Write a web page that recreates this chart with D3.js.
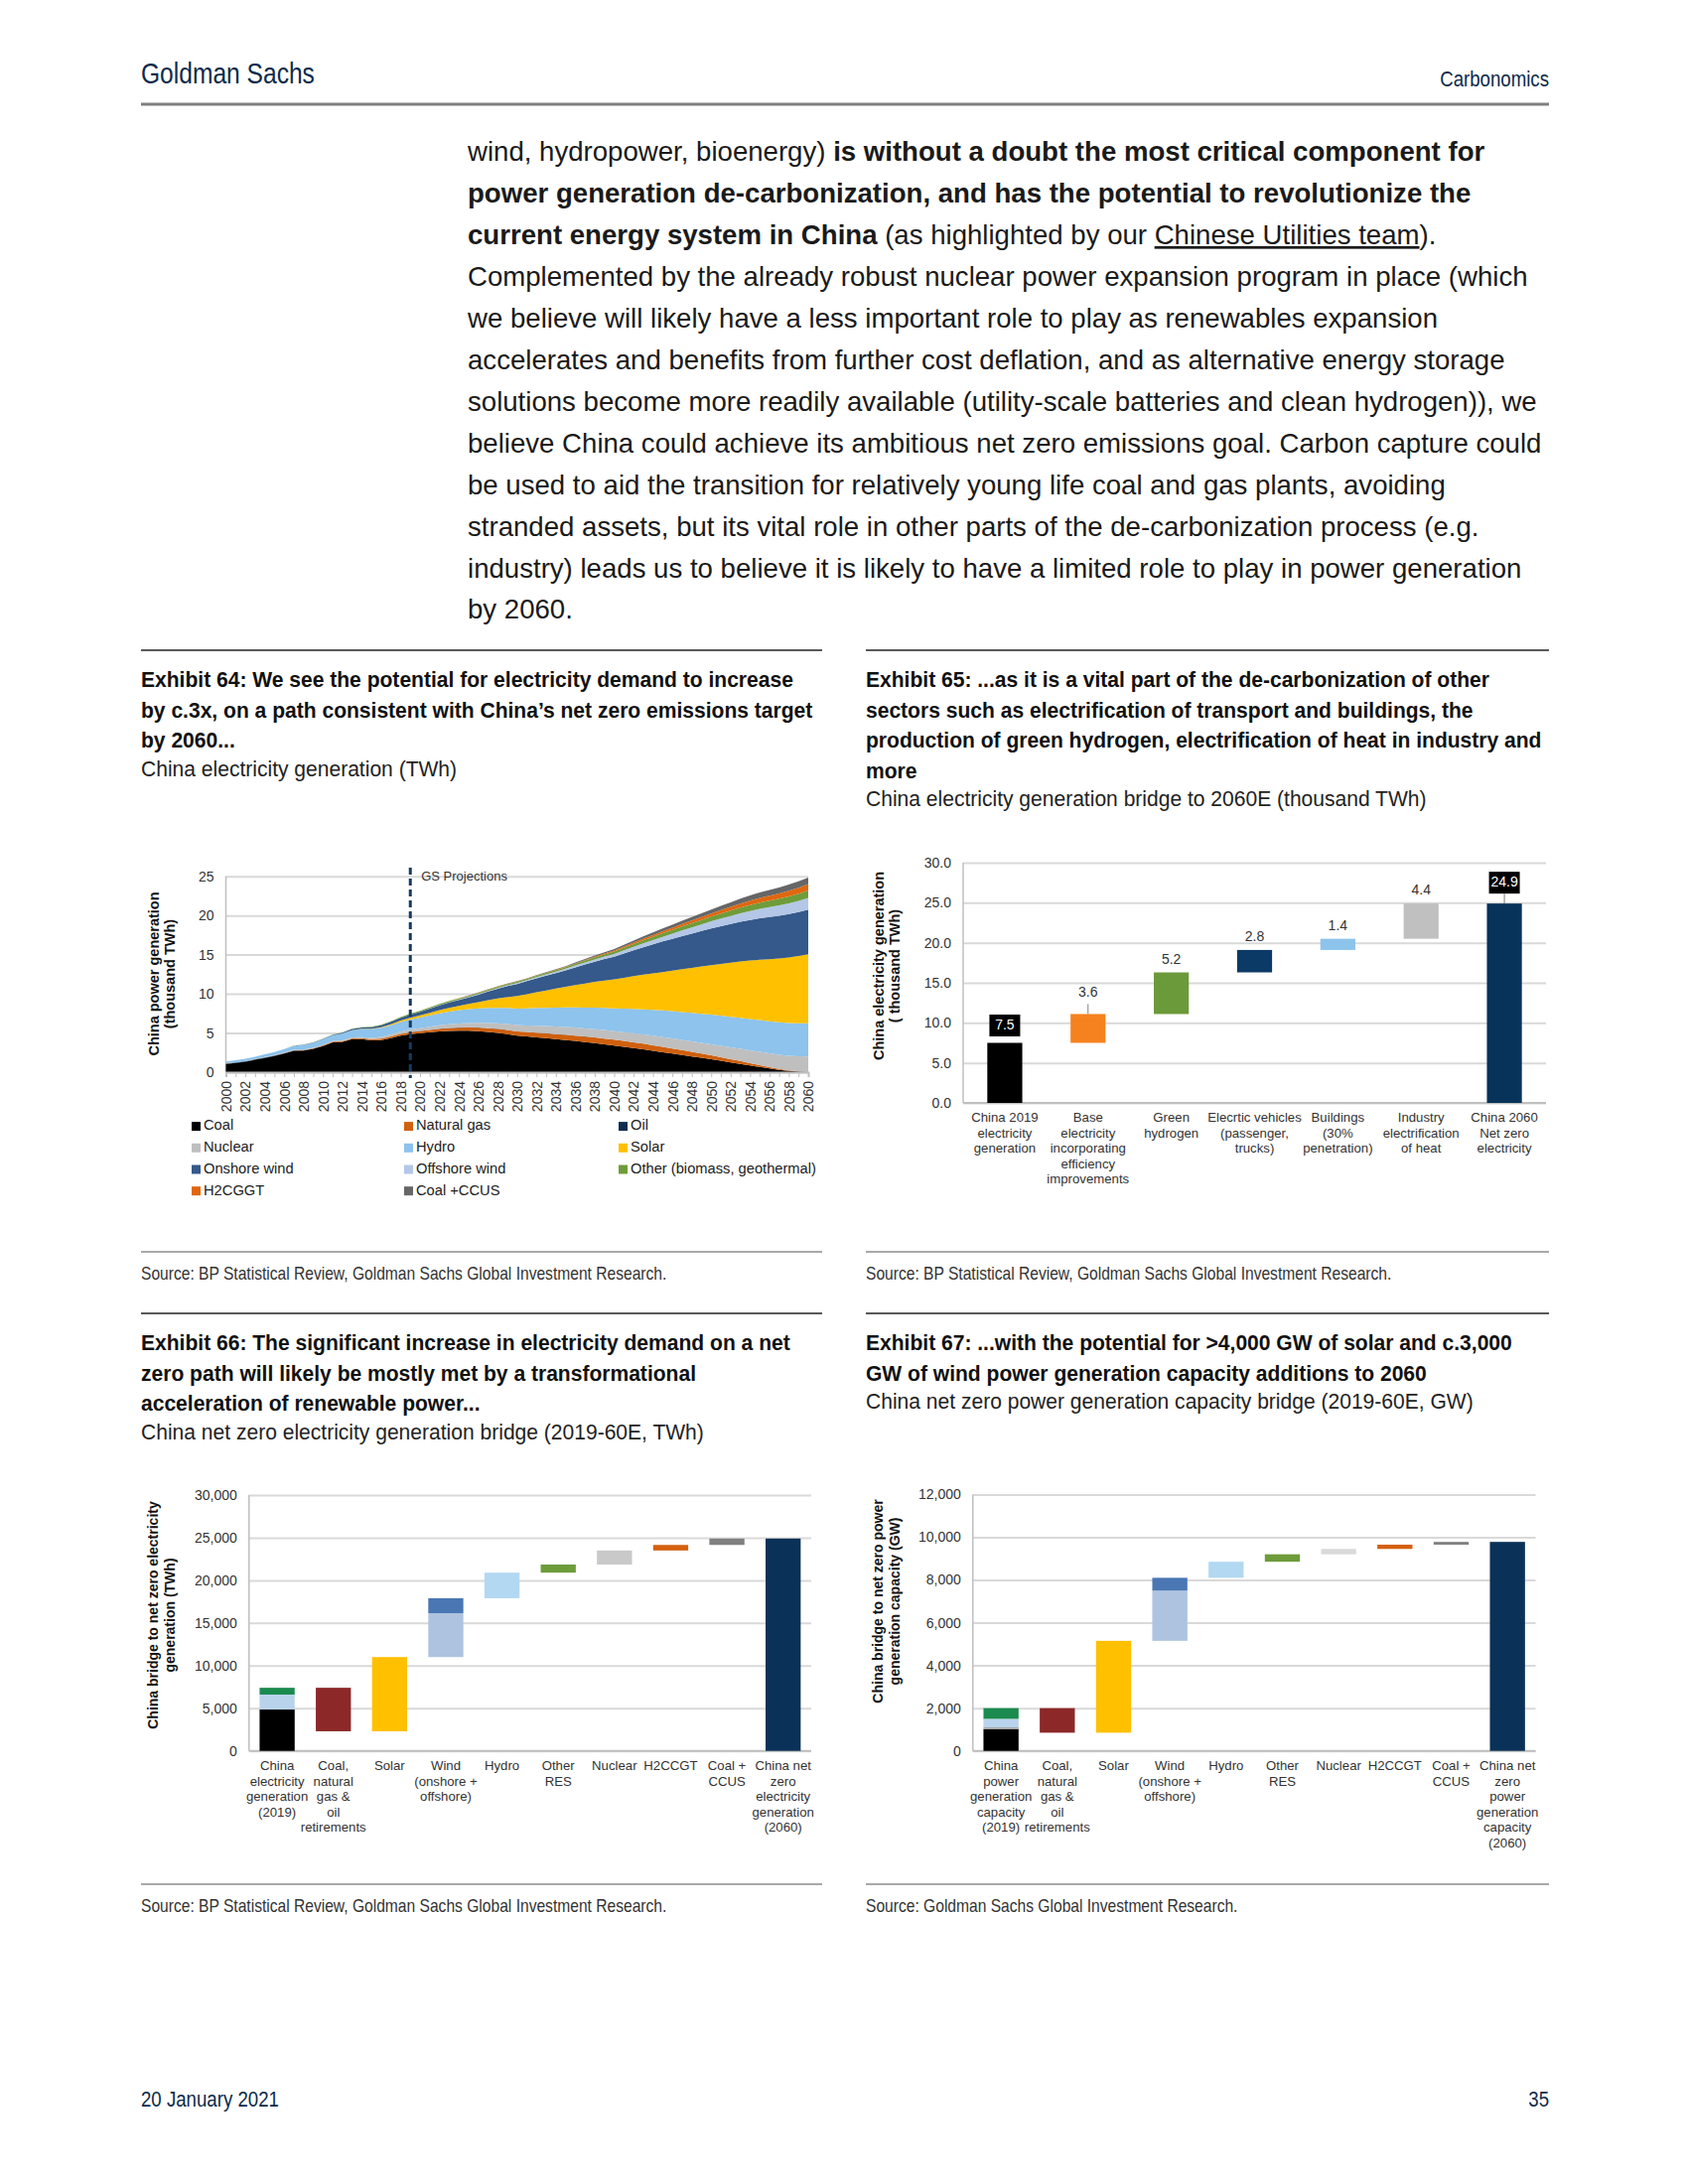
<!DOCTYPE html>
<html>
<head>
<meta charset="utf-8">
<script src="https://cdn.jsdelivr.net/npm/d3@7"></script>
<style>
  body { margin: 0; background: #fff; }
</style>
</head>
<body>
<div id="page"></div>
<script>
// ---------- Exhibit 64 data: China electricity generation, thousand TWh ----------
const years = d3.range(2000, 2061);

const coal = [
  1.06,1.16,1.33,1.58,1.80,2.05,2.37,2.72,2.76,2.98,   // 2000-09
  3.33,3.80,3.86,4.20,4.20,4.05,4.10,4.35,4.65,4.85,   // 2010-19
  4.98,5.10,5.20,5.27,5.30,5.30,5.24,5.14,5.02,4.85,   // 2020-29
  4.65,4.55,4.45,4.34,4.22,4.10,3.98,3.84,3.70,3.55,   // 2030-39
  3.40,3.24,3.08,2.91,2.73,2.55,2.37,2.19,2.01,1.83,   // 2040-49
  1.65,1.45,1.25,1.05,0.85,0.65,0.46,0.29,0.15,0.05,   // 2050-59
  0.00];
const naturalGas = [
  0.01,0.01,0.01,0.01,0.02,0.02,0.03,0.04,0.04,0.05,
  0.07,0.09,0.10,0.11,0.12,0.15,0.17,0.20,0.22,0.24,
  0.26,0.29,0.32,0.35,0.38,0.41,0.44,0.47,0.50,0.53,
  0.55,0.57,0.59,0.61,0.63,0.66,0.68,0.70,0.72,0.73,
  0.74,0.74,0.73,0.72,0.70,0.68,0.65,0.62,0.58,0.54,
  0.50,0.46,0.41,0.36,0.30,0.24,0.18,0.12,0.07,0.03,
  0.00];
const oil = [
  0.05,0.05,0.05,0.05,0.05,0.05,0.05,0.04,0.03,0.02,
  0.01,0.01,0.01,0.01,0.01,0.01,0.01,0.01,0.01,0.01,
  0.01,0.01,0.01,0.01,0.01,0.01,0.01,0.01,0.01,0.01,
  0.01,0.01,0.01,0.01,0.01,0.01,0.01,0.01,0.01,0.01,
  0,0,0,0,0,0,0,0,0,0,
  0,0,0,0,0,0,0,0,0,0,
  0];
const nuclear = [
  0.017,0.017,0.025,0.043,0.050,0.053,0.055,0.062,0.068,0.070,
  0.074,0.086,0.098,0.11,0.13,0.17,0.21,0.25,0.29,0.35,
  0.37,0.41,0.45,0.49,0.52,0.56,0.60,0.66,0.71,0.76,
  0.80,0.84,0.88,0.92,0.96,1.00,1.02,1.04,1.06,1.08,
  1.10,1.13,1.16,1.19,1.22,1.25,1.28,1.31,1.34,1.37,
  1.40,1.46,1.52,1.58,1.64,1.70,1.76,1.82,1.88,1.94,
  2.00];
const hydro = [
  0.22,0.28,0.29,0.28,0.35,0.40,0.44,0.49,0.60,0.62,
  0.72,0.70,0.87,0.92,1.06,1.13,1.18,1.19,1.23,1.27,
  1.36,1.45,1.54,1.62,1.70,1.78,1.85,1.92,1.98,2.04,
  2.10,2.18,2.26,2.34,2.42,2.50,2.58,2.66,2.74,2.82,
  2.90,3.00,3.10,3.20,3.30,3.40,3.48,3.56,3.64,3.72,
  3.80,3.85,3.90,3.95,4.00,4.05,4.09,4.13,4.17,4.21,
  4.25];
const solar = [
  0,0,0,0,0,0,0,0,0,0,
  0.001,0.003,0.004,0.008,0.023,0.045,0.075,0.12,0.18,0.22,
  0.26,0.32,0.39,0.47,0.56,0.66,0.80,0.98,1.18,1.39,
  1.60,1.80,2.00,2.21,2.42,2.63,2.85,3.07,3.29,3.50,
  3.70,3.94,4.18,4.42,4.66,4.90,5.18,5.46,5.74,6.02,
  6.30,6.60,6.90,7.20,7.45,7.70,7.92,8.14,8.36,8.58,
  8.80];
const onshoreWind = [
  0.001,0.001,0.001,0.001,0.001,0.002,0.004,0.006,0.013,0.027,
  0.045,0.07,0.096,0.14,0.16,0.186,0.24,0.30,0.36,0.40,
  0.45,0.52,0.60,0.68,0.74,0.80,0.95,1.10,1.25,1.40,
  1.55,1.66,1.77,1.88,1.99,2.10,2.26,2.42,2.58,2.74,
  2.90,3.10,3.30,3.50,3.70,3.90,4.06,4.22,4.38,4.54,
  4.70,4.82,4.94,5.06,5.18,5.30,5.38,5.46,5.54,5.62,
  5.70];
const offshoreWind = [
  0,0,0,0,0,0,0,0,0,0,
  0,0,0,0,0,0,0,0,0.005,0.01,
  0.02,0.03,0.04,0.05,0.06,0.07,0.08,0.09,0.10,0.11,
  0.12,0.14,0.16,0.18,0.19,0.20,0.23,0.26,0.29,0.32,
  0.35,0.40,0.45,0.50,0.55,0.60,0.66,0.72,0.78,0.84,
  0.90,0.96,1.02,1.08,1.14,1.20,1.26,1.32,1.38,1.44,
  1.50];
const otherRes = [
  0.002,0.002,0.002,0.002,0.003,0.005,0.01,0.02,0.02,0.02,
  0.025,0.03,0.035,0.04,0.045,0.05,0.06,0.08,0.10,0.12,
  0.13,0.13,0.14,0.14,0.15,0.15,0.15,0.15,0.15,0.15,
  0.15,0.16,0.17,0.18,0.19,0.20,0.22,0.24,0.26,0.28,
  0.30,0.33,0.36,0.39,0.42,0.45,0.48,0.51,0.54,0.57,
  0.60,0.64,0.68,0.72,0.76,0.80,0.83,0.86,0.89,0.92,
  0.95];
const h2cggt = [
  0,0,0,0,0,0,0,0,0,0,
  0,0,0,0,0,0,0,0,0,0,
  0,0,0,0.01,0.01,0.02,0.02,0.02,0.03,0.03,
  0.03,0.03,0.04,0.04,0.05,0.05,0.06,0.08,0.09,0.10,
  0.12,0.14,0.17,0.20,0.22,0.25,0.28,0.31,0.34,0.37,
  0.40,0.44,0.48,0.52,0.56,0.60,0.64,0.68,0.72,0.76,
  0.80];
const coalCcus = [
  0,0,0,0,0,0,0,0,0,0,
  0,0,0,0,0,0,0,0,0,0,
  0,0,0.01,0.01,0.02,0.03,0.03,0.04,0.04,0.05,
  0.05,0.05,0.06,0.06,0.07,0.08,0.10,0.12,0.14,0.17,
  0.20,0.23,0.26,0.29,0.32,0.35,0.38,0.41,0.44,0.47,
  0.50,0.54,0.58,0.62,0.66,0.70,0.73,0.76,0.79,0.82,
  0.85];

const seriesNames64 = ["Coal", "Natural gas", "Oil", "Nuclear", "Hydro", "Solar",
  "Onshore wind", "Offshore wind", "Other (biomass, geothermal)", "H2CGGT", "Coal +CCUS"];
const seriesValues64 = [coal, naturalGas, oil, nuclear, hydro, solar,
  onshoreWind, offshoreWind, otherRes, h2cggt, coalCcus];
const yTicks64 = [0, 5, 10, 15, 20, 25];

// ---------- Exhibit 65 data: bridge to 2060E, thousand TWh (null = total bar) ----------
const cats65 = [
  ["China 2019", "electricity", "generation"],
  ["Base", "electricity", "incorporating", "efficiency", "improvements"],
  ["Green", "hydrogen"],
  ["Elecrtic vehicles", "(passenger,", "trucks)"],
  ["Buildings", "(30%", "penetration)"],
  ["Industry", "electrification", "of heat"],
  ["China 2060", "Net zero", "electricity"]];
const steps65 = [[7.5], [3.6], [5.2], [2.8], [1.4], [4.4], null];
const yTicks65 = [0, 5, 10, 15, 20, 25, 30];

// ---------- Exhibit 66 data: net zero generation bridge, TWh ----------
const cats66 = [
  ["China", "electricity", "generation", "(2019)"],
  ["Coal,", "natural", "gas &", "oil", "retirements"],
  ["Solar"],
  ["Wind", "(onshore +", "offshore)"],
  ["Hydro"],
  ["Other", "RES"],
  ["Nuclear"],
  ["H2CCGT"],
  ["Coal +", "CCUS"],
  ["China net", "zero", "electricity", "generation", "(2060)"]];
const steps66 = [[4850, 1750, 800], [-5100], [8700], [5150, 1750], [3000], [950], [1650], [650], [750], null];
const yTicks66 = [0, 5000, 10000, 15000, 20000, 25000, 30000];

// ---------- Exhibit 67 data: net zero capacity bridge, GW ----------
const cats67 = [
  ["China", "power", "generation", "capacity", "(2019)"],
  ["Coal,", "natural", "gas &", "oil", "retirements"],
  ["Solar"],
  ["Wind", "(onshore +", "offshore)"],
  ["Hydro"],
  ["Other", "RES"],
  ["Nuclear"],
  ["H2CCGT"],
  ["Coal +", "CCUS"],
  ["China net", "zero", "power", "generation", "capacity", "(2060)"]];
const steps67 = [[1020, 80, 400, 500], [-1150], [4300], [2350, 600], [750], [350], [250], [200], [130], null];
const yTicks67 = [0, 2000, 4000, 6000, 8000, 10000, 12000];

// ---------- styles ----------
const SANS = "'Liberation Sans',Arial,'DejaVu Sans',sans-serif";
const GRID = "#d9d9d9";
const AXIS = "#bfbfbf";
const TICKTXT = "#333";

const colors64 = ["#000000", "#d0600e", "#0b2d4e", "#bfbfbf", "#8dc3ec", "#ffc000",
  "#34598a", "#b4c7e7", "#6f9c3a", "#e0670f", "#666666"];
const colors65 = [["#000000"], ["#f5821f"], ["#6b9a3a"], ["#0c3a66"], ["#8dc4ec"], ["#c0c0c0"], ["#07325a"]];
const colors66 = [["#000000", "#b9d3ec", "#1b8a4e"], ["#8c2828"], ["#ffc000"], ["#adc3e0", "#4a77b4"],
  ["#b3d8f2"], ["#6e9c3b"], ["#c9c9c9"], ["#d4600f"], ["#808080"], ["#0a3157"]];
const colors67 = [["#000000", "#a6a6a6", "#b9d3ec", "#1b8a4e"], ["#8c2828"], ["#ffc000"], ["#adc3e0", "#4a77b4"],
  ["#b3d8f2"], ["#6e9c3b"], ["#d9d9d9"], ["#d4600f"], ["#808080"], ["#0a3157"]];

const svg = d3.select("#page").append("svg")
    .attr("width", 1700)
    .attr("height", 2200)
    .style("font-family", SANS);

// no condensed face is installed, so squeeze a regular one horizontally
function measure(str, size, weight) {
  const t = svg.append("text").attr("font-size", size).attr("font-weight", weight).text(str);
  const w = t.node().getComputedTextLength();
  t.remove();
  return w;
}
function narrow(x, y, str, size, weight, sx, fill, anchor) {
  return svg.append("text")
      .attr("transform", `translate(${x},${y}) scale(${sx},1)`)
      .attr("text-anchor", anchor || "start")
      .attr("font-size", size).attr("font-weight", weight).attr("fill", fill)
      .text(str);
}
const titleScale = 677 / measure("by c.3x, on a path consistent with China\u2019s net zero emissions target", 22, "bold");
const subScale = 565 / measure("China electricity generation bridge to 2060E (thousand TWh)", 22, "normal");
const srcScale = 530 / measure("Source: BP Statistical Review, Goldman Sachs Global Investment Research.", 18, "normal");
const headScale = 175 / measure("Goldman Sachs", 29, "normal");

// ---------- page header ----------
narrow(142, 84, "Goldman Sachs", 29, "normal", headScale, "#0c2b4b");
narrow(1560, 87, "Carbonomics", 22, "normal", headScale, "#0c2b4b", "end");
svg.append("line").attr("x1", 142).attr("x2", 1560).attr("y1", 105).attr("y2", 105)
    .attr("stroke", "#808080").attr("stroke-width", 3);

// ---------- body text ----------
const bodyLines = [
  [["wind, hydropower, bioenergy) ", "n"], ["is without a doubt the most critical component for", "b"]],
  [["power generation de-carbonization, and has the potential to revolutionize the", "b"]],
  [["current energy system in China", "b"], [" (as highlighted by our ", "n"], ["Chinese Utilities team", "u"], [").", "n"]],
  [["Complemented by the already robust nuclear power expansion program in place (which", "n"]],
  [["we believe will likely have a less important role to play as renewables expansion", "n"]],
  [["accelerates and benefits from further cost deflation, and as alternative energy storage", "n"]],
  [["solutions become more readily available (utility-scale batteries and clean hydrogen)), we", "n"]],
  [["believe China could achieve its ambitious net zero emissions goal. Carbon capture could", "n"]],
  [["be used to aid the transition for relatively young life coal and gas plants, avoiding", "n"]],
  [["stranded assets, but its vital role in other parts of the de-carbonization process (e.g.", "n"]],
  [["industry) leads us to believe it is likely to have a limited role to play in power generation", "n"]],
  [["by 2060.", "n"]]];

bodyLines.forEach((segs, i) => {
  const t = svg.append("text")
      .attr("x", 471).attr("y", 162 + i * 41.95)
      .attr("font-size", 27.6).attr("fill", "#1a1a1a");
  segs.forEach(([s, st]) => {
    t.append("tspan")
        .attr("font-weight", st === "b" ? "bold" : "normal")
        .attr("text-decoration", st === "u" ? "underline" : null)
        .text(s);
  });
});

// ---------- exhibit titles and sources ----------
function exhibitHeader(x, x2, yTop, titleLines, subtitle) {
  svg.append("line").attr("x1", x).attr("x2", x2).attr("y1", yTop).attr("y2", yTop)
      .attr("stroke", "#595959").attr("stroke-width", 2);
  titleLines.forEach((s, i) => {
    narrow(x, yTop + 37 + i * 30.5, s, 22, "bold", titleScale, "#111");
  });
  narrow(x, yTop + 37 + (titleLines.length - 1) * 30.5 + 28.5, subtitle, 22, "normal", subScale, "#222");
}

function source(x, x2, yRule, s) {
  svg.append("line").attr("x1", x).attr("x2", x2).attr("y1", yRule).attr("y2", yRule)
      .attr("stroke", "#8c8c8c").attr("stroke-width", 1.5);
  narrow(x, yRule + 28, s, 18, "normal", srcScale, "#333");
}

exhibitHeader(142, 828, 655, [
  "Exhibit 64: We see the potential for electricity demand to increase",
  "by c.3x, on a path consistent with China\u2019s net zero emissions target",
  "by 2060..."], "China electricity generation (TWh)");
exhibitHeader(872, 1560, 655, [
  "Exhibit 65: ...as it is a vital part of the de-carbonization of other",
  "sectors such as electrification of transport and buildings, the",
  "production of green hydrogen, electrification of heat in industry and",
  "more"], "China electricity generation bridge to 2060E (thousand TWh)");
exhibitHeader(142, 828, 1323, [
  "Exhibit 66: The significant increase in electricity demand on a net",
  "zero path will likely be mostly met by a transformational",
  "acceleration of renewable power..."], "China net zero electricity generation bridge (2019-60E, TWh)");
exhibitHeader(872, 1560, 1323, [
  "Exhibit 67: ...with the potential for >4,000 GW of solar and c.3,000",
  "GW of wind power generation capacity additions to 2060"],
  "China net zero power generation capacity bridge (2019-60E, GW)");

source(142, 828, 1261, "Source: BP Statistical Review, Goldman Sachs Global Investment Research.");
source(872, 1560, 1261, "Source: BP Statistical Review, Goldman Sachs Global Investment Research.");
source(142, 828, 1898, "Source: BP Statistical Review, Goldman Sachs Global Investment Research.");
source(872, 1560, 1898, "Source: Goldman Sachs Global Investment Research.");

// footer
narrow(142, 2122, "20 January 2021", 22, "normal", headScale, "#0c2b4b");
narrow(1560, 2122, "35", 22, "normal", headScale, "#0c2b4b", "end");

// ---------- shared axis helpers ----------
function yAxisGrid(x0, x1, y, ticks, fmt, pad) {
  const g = svg.append("g").attr("transform", `translate(${x0},0)`)
      .call(d3.axisLeft(y).tickValues(ticks).tickSize(-(x1 - x0)).tickPadding(pad).tickFormat(fmt));
  g.select(".domain").remove();
  g.selectAll(".tick line").attr("stroke", GRID).attr("stroke-width", 2);
  g.selectAll(".tick text").attr("font-size", 14).attr("fill", TICKTXT).attr("font-family", SANS);
  // left and bottom axis lines
  svg.append("line").attr("x1", x0).attr("x2", x0).attr("y1", y.range()[1]).attr("y2", y.range()[0])
      .attr("stroke", AXIS).attr("stroke-width", 1.5);
  svg.append("line").attr("x1", x0).attr("x2", x1).attr("y1", y.range()[0]).attr("y2", y.range()[0])
      .attr("stroke", AXIS).attr("stroke-width", 2);
}

function yTitle(cx, cy, lines, size) {
  const g = svg.append("g").attr("transform", `translate(${cx},${cy}) rotate(-90)`);
  lines.forEach((s, i) => {
    g.append("text").attr("x", 0).attr("y", (i - (lines.length - 1) / 2) * 16.5)
        .attr("text-anchor", "middle").attr("dominant-baseline", "middle")
        .attr("font-weight", "bold").attr("font-size", size).attr("fill", "#111").text(s);
  });
}

// ---------- Exhibit 64: stacked area ----------
{
  const x = d3.scaleLinear().domain([2000, 2060]).range([227.5, 814]);
  const y = d3.scaleLinear().domain([0, 25]).range([1080, 882.7]);

  yAxisGrid(227.5, 814, y, yTicks64, d3.format("d"), 12);

  const rows = years.map((yr, i) => {
    const r = {year: yr};
    seriesNames64.forEach((n, k) => r[n] = seriesValues64[k][i]);
    return r;
  });
  const stacked = d3.stack().keys(seriesNames64)(rows);
  const area = d3.area()
      .x(d => x(d.data.year))
      .y0(d => y(d[0]))
      .y1(d => y(d[1]));

  svg.append("g").selectAll("path")
      .data(stacked)
    .join("path")
      .attr("d", area)
      .attr("fill", (d, i) => colors64[i]);

  // year axis, tick every year, label every second year
  const xa = svg.append("g").attr("transform", "translate(0,1080)")
      .call(d3.axisBottom(x).tickValues(years).tickSize(5).tickFormat(d => d % 2 === 0 ? d : ""));
  xa.select(".domain").attr("stroke", AXIS).attr("stroke-width", 2);
  xa.selectAll(".tick line").attr("stroke", AXIS);
  xa.selectAll(".tick text")
      .attr("transform", "rotate(-90)")
      .attr("text-anchor", "end")
      .attr("x", -9).attr("y", 0).attr("dy", "0.35em")
      .attr("font-size", 14).attr("fill", TICKTXT).attr("font-family", SANS);

  // projection marker
  svg.append("line").attr("x1", x(2019)).attr("x2", x(2019)).attr("y1", 874).attr("y2", 1086)
      .attr("stroke", "#173a5e").attr("stroke-width", 3).attr("stroke-dasharray", "7,4");
  svg.append("text").attr("x", x(2019) + 11).attr("y", 887)
      .attr("font-size", 13).attr("fill", "#333").text("GS Projections");

  yTitle(164, 981, ["China power generation", "(thousand TWh)"], 14.5);

  // legend, 3 columns
  const legendX = [193, 407, 623];
  const legend = svg.append("g").selectAll("g")
      .data(seriesNames64)
    .join("g")
      .attr("transform", (d, i) => `translate(${legendX[i % 3]},${1134.6 + Math.floor(i / 3) * 21.7})`);
  legend.append("rect").attr("x", 0).attr("y", -4.5).attr("width", 9).attr("height", 9)
      .attr("fill", (d, i) => colors64[i]);
  legend.append("text").attr("x", 12).attr("y", 0).attr("dominant-baseline", "middle")
      .attr("font-size", 14.7).attr("fill", "#222").text(d => d);
}

// ---------- waterfall helper for Exhibits 65-67 ----------
function waterfall(cfg) {
  const x = d3.scaleBand().domain(d3.range(cfg.cats.length))
      .range([cfg.x0, cfg.x1]).paddingInner(cfg.pad).paddingOuter(cfg.pad / 2);
  const y = d3.scaleLinear().domain(cfg.domain).range([cfg.yBottom, cfg.yTop]);

  yAxisGrid(cfg.x0, cfg.x1, y, cfg.ticks, cfg.fmt, 12);

  // build segments from the running total
  let running = 0;
  const segs = [];
  const tops = [];
  cfg.steps.forEach((parts, i) => {
    if (parts === null) {
      segs.push({i, lo: 0, hi: running, color: cfg.colors[i][0]});
      tops.push({i, top: running, value: running});
      return;
    }
    let sum = 0;
    parts.forEach((v, k) => {
      const a = running, b = running + v;
      segs.push({i, lo: Math.min(a, b), hi: Math.max(a, b), color: cfg.colors[i][k]});
      running = b;
      sum += v;
    });
    tops.push({i, top: Math.max(running, running - sum), value: sum});
  });

  svg.append("g").selectAll("rect")
      .data(segs)
    .join("rect")
      .attr("x", d => x(d.i))
      .attr("width", x.bandwidth())
      .attr("y", d => y(d.hi))
      .attr("height", d => y(d.lo) - y(d.hi))
      .attr("fill", d => d.color);

  // category labels, centred multi-line
  cfg.cats.forEach((lines, i) => {
    lines.forEach((s, k) => {
      svg.append("text").attr("x", x(i) + x.bandwidth() / 2).attr("y", cfg.labelY + k * 15.5)
          .attr("text-anchor", "middle").attr("dominant-baseline", "middle")
          .attr("font-size", 13.2).attr("fill", TICKTXT).text(s);
    });
  });
  return {x, y, tops};
}

// ---------- Exhibit 65 ----------
{
  const w = waterfall({
    cats: cats65, steps: steps65, colors: colors65,
    x0: 970, x1: 1557, pad: 0.58,
    domain: [0, 30], yBottom: 1111, yTop: 869,
    ticks: yTicks65, fmt: d3.format(".1f"), labelY: 1127
  });
  const f = d3.format(".1f");
  const boxed = [0, 6];      // totals shown in black boxes
  const lift = {0: 17.5, 1: 21, 6: 21};
  w.tops.forEach(t => {
    const cx = w.x(t.i) + w.x.bandwidth() / 2;
    const ty = w.y(t.top);
    const up = lift[t.i] || 12.5;
    if (boxed.includes(t.i)) {
      svg.append("rect").attr("x", cx - 15.5).attr("y", ty - up - 11).attr("width", 31).attr("height", 22)
          .attr("fill", "#000");
      svg.append("text").attr("x", cx).attr("y", ty - up).attr("text-anchor", "middle")
          .attr("dominant-baseline", "middle").attr("font-size", 14).attr("fill", "#fff").text(f(t.value));
    } else {
      svg.append("text").attr("x", cx).attr("y", ty - up).attr("text-anchor", "middle")
          .attr("dominant-baseline", "middle").attr("font-size", 14).attr("fill", "#333").text(f(t.value));
    }
    if (up > 20) {
      svg.append("line").attr("x1", cx).attr("x2", cx).attr("y1", ty - up + 11).attr("y2", ty)
          .attr("stroke", "#7f7f7f").attr("stroke-width", 1);
    }
  });
  yTitle(894, 973, ["China electricity generation", "( thousand TWh)"], 14.5);
}

// ---------- Exhibit 66 ----------
waterfall({
  cats: cats66, steps: steps66, colors: colors66,
  x0: 250.8, x1: 817, pad: 0.376,
  domain: [0, 30000], yBottom: 1763.7, yTop: 1506,
  ticks: yTicks66, fmt: d3.format(","), labelY: 1780
});
yTitle(164, 1627, ["China bridge to net zero electricity", "generation (TWh)"], 14);

// ---------- Exhibit 67 ----------
waterfall({
  cats: cats67, steps: steps67, colors: colors67,
  x0: 979.8, x1: 1546.5, pad: 0.376,
  domain: [0, 12000], yBottom: 1763.7, yTop: 1505.4,
  ticks: yTicks67, fmt: d3.format(","), labelY: 1780
});
yTitle(894, 1613, ["China bridge to net zero power", "generation capacity (GW)"], 14);
</script>
</body>
</html>
